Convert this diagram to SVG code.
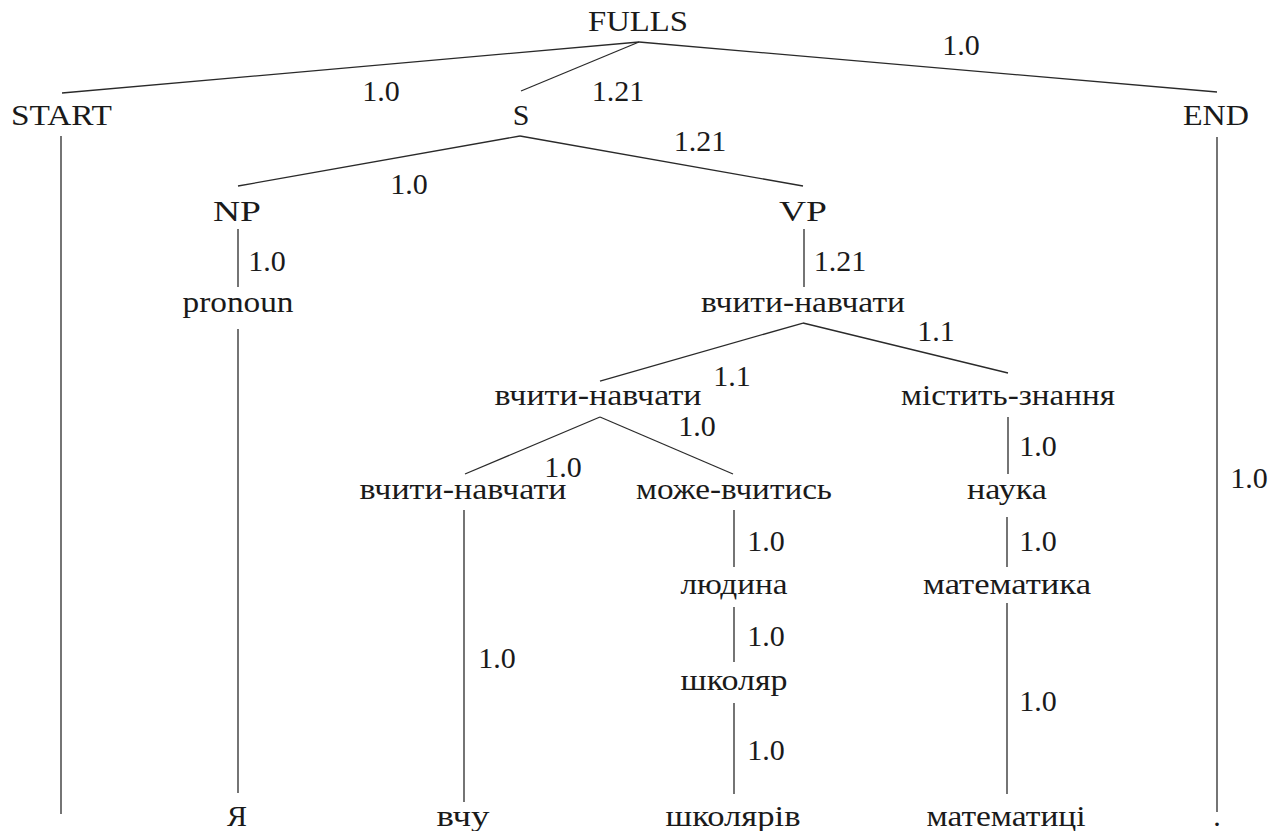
<svg xmlns="http://www.w3.org/2000/svg" width="1280" height="831" viewBox="0 0 1280 831" font-family="Liberation Serif">
  <rect x="0" y="0" width="1280" height="831" fill="#ffffff"/>
  <g id="edges" stroke="#2a2a2a" stroke-width="1.3" fill="none">
    <line x1="639" y1="42" x2="62" y2="93"/>
    <line x1="639" y1="42" x2="521" y2="91"/>
    <line x1="639" y1="42" x2="1217" y2="92"/>
    <line x1="520" y1="136" x2="238" y2="186"/>
    <line x1="520" y1="136" x2="803" y2="186"/>
    <line x1="238" y1="229" x2="238" y2="287"/>
    <line x1="804" y1="229" x2="804" y2="287"/>
    <line x1="238" y1="329" x2="238" y2="793"/>
    <line x1="803" y1="323" x2="600" y2="381"/>
    <line x1="803" y1="323" x2="1008" y2="373"/>
    <line x1="600" y1="417" x2="465" y2="474"/>
    <line x1="600" y1="417" x2="733" y2="474"/>
    <line x1="1008" y1="417" x2="1008" y2="474"/>
    <line x1="464" y1="510" x2="464" y2="802"/>
    <line x1="734" y1="510" x2="734" y2="567"/>
    <line x1="734" y1="607" x2="734" y2="662"/>
    <line x1="734" y1="703" x2="734" y2="794"/>
    <line x1="1007" y1="517" x2="1007" y2="567"/>
    <line x1="1007" y1="603" x2="1007" y2="794"/>
    <line x1="61" y1="136" x2="61" y2="814"/>
    <line x1="1217" y1="137" x2="1217" y2="812"/>
  </g>
  <g id="weights" font-family="Liberation Serif" font-size="30" fill="#1a1a1a" text-anchor="middle">
    <text x="381" y="101" style="font-family:'Liberation Serif',serif">1.0</text>
    <text x="618" y="101" style="font-family:'Liberation Serif',serif">1.21</text>
    <text x="961" y="55" style="font-family:'Liberation Serif',serif">1.0</text>
    <text x="409" y="194" style="font-family:'Liberation Serif',serif">1.0</text>
    <text x="700" y="151" style="font-family:'Liberation Serif',serif">1.21</text>
    <text x="267" y="271" style="font-family:'Liberation Serif',serif">1.0</text>
    <text x="840" y="271" style="font-family:'Liberation Serif',serif">1.21</text>
    <text x="936" y="341" style="font-family:'Liberation Serif',serif">1.1</text>
    <text x="732" y="386" style="font-family:'Liberation Serif',serif">1.1</text>
    <text x="697" y="436" style="font-family:'Liberation Serif',serif">1.0</text>
    <text x="563" y="477" style="font-family:'Liberation Serif',serif">1.0</text>
    <text x="1038" y="456" style="font-family:'Liberation Serif',serif">1.0</text>
    <text x="497" y="668" style="font-family:'Liberation Serif',serif">1.0</text>
    <text x="766" y="551" style="font-family:'Liberation Serif',serif">1.0</text>
    <text x="766" y="646" style="font-family:'Liberation Serif',serif">1.0</text>
    <text x="766" y="760" style="font-family:'Liberation Serif',serif">1.0</text>
    <text x="1038" y="551" style="font-family:'Liberation Serif',serif">1.0</text>
    <text x="1038" y="711" style="font-family:'Liberation Serif',serif">1.0</text>
    <text x="1249" y="488" style="font-family:'Liberation Serif',serif">1.0</text>
  </g>
  <g id="nodes" font-family="Liberation Serif" font-size="30" fill="#1a1a1a" text-anchor="middle">
    <g id="n-fulls"><text x="638" y="31" style="font-family:'Liberation Serif',serif" textLength="100" lengthAdjust="spacingAndGlyphs">FULLS</text></g>
    <g id="n-start"><text x="61.5" y="125" style="font-family:'Liberation Serif',serif" textLength="101" lengthAdjust="spacingAndGlyphs">START</text></g>
    <g id="n-s"><text x="521" y="125" style="font-family:'Liberation Serif',serif">S</text></g>
    <g id="n-end"><text x="1216" y="125" style="font-family:'Liberation Serif',serif" textLength="66" lengthAdjust="spacingAndGlyphs">END</text></g>
    <g id="n-np"><text x="237" y="221" style="font-family:'Liberation Serif',serif" textLength="48" lengthAdjust="spacingAndGlyphs">NP</text></g>
    <g id="n-vp"><text x="803" y="221" style="font-family:'Liberation Serif',serif" textLength="48" lengthAdjust="spacingAndGlyphs">VP</text></g>
    <g id="n-pronoun"><text x="238" y="312" style="font-family:'Liberation Serif',serif" textLength="111" lengthAdjust="spacingAndGlyphs">pronoun</text></g>
    <g id="n-vchyty1"><text x="803" y="312" style="font-family:'Liberation Serif',serif" textLength="204" lengthAdjust="spacingAndGlyphs">вчити-навчати</text></g>
    <g id="n-vchyty2"><text x="598" y="405" style="font-family:'Liberation Serif',serif" textLength="207" lengthAdjust="spacingAndGlyphs">вчити-навчати</text></g>
    <g id="n-mistyt"><text x="1008" y="405" style="font-family:'Liberation Serif',serif" textLength="214" lengthAdjust="spacingAndGlyphs">містить-знання</text></g>
    <g id="n-vchyty3"><text x="463" y="499" style="font-family:'Liberation Serif',serif" textLength="207" lengthAdjust="spacingAndGlyphs">вчити-навчати</text></g>
    <g id="n-mozhe"><text x="734" y="499" style="font-family:'Liberation Serif',serif" textLength="196" lengthAdjust="spacingAndGlyphs">може-вчитись</text></g>
    <g id="n-nauka"><text x="1007" y="499" style="font-family:'Liberation Serif',serif" textLength="80" lengthAdjust="spacingAndGlyphs">наука</text></g>
    <g id="n-lyudyna"><text x="734" y="594" style="font-family:'Liberation Serif',serif" textLength="107" lengthAdjust="spacingAndGlyphs">людина</text></g>
    <g id="n-matematyka"><text x="1007" y="594" style="font-family:'Liberation Serif',serif" textLength="168" lengthAdjust="spacingAndGlyphs">математика</text></g>
    <g id="n-shkolyar"><text x="734" y="690" style="font-family:'Liberation Serif',serif" textLength="107" lengthAdjust="spacingAndGlyphs">школяр</text></g>
    <g id="w-ya"><text x="237" y="826" style="font-family:'Liberation Serif',serif">Я</text></g>
    <g id="w-vchu"><text x="463" y="826" style="font-family:'Liberation Serif',serif" textLength="53" lengthAdjust="spacingAndGlyphs">вчу</text></g>
    <g id="w-shkolyariv"><text x="733" y="826" style="font-family:'Liberation Serif',serif" textLength="135" lengthAdjust="spacingAndGlyphs">школярів</text></g>
    <g id="w-matematytsi"><text x="1006" y="826" style="font-family:'Liberation Serif',serif" textLength="159" lengthAdjust="spacingAndGlyphs">математиці</text></g>
    <g id="w-dot"><text x="1217" y="826" style="font-family:'Liberation Serif',serif">.</text></g>
  </g>
</svg>
